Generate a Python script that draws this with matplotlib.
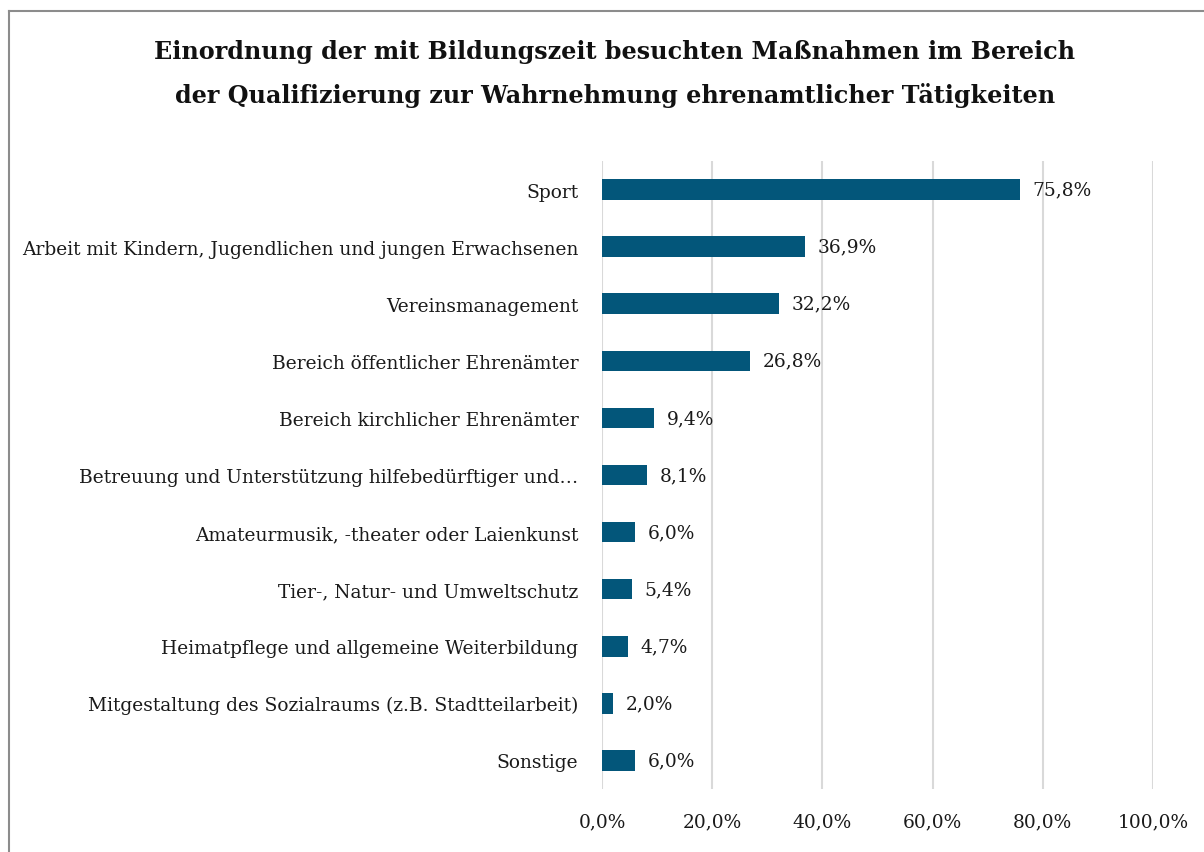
import matplotlib.pyplot as plt
from matplotlib.lines import Line2D
from matplotlib.ticker import FuncFormatter

categories = [
    "Sport",
    "Arbeit mit Kindern, Jugendlichen und jungen Erwachsenen",
    "Vereinsmanagement",
    "Bereich öffentlicher Ehrenämter",
    "Bereich kirchlicher Ehrenämter",
    "Betreuung und Unterstützung hilfebedürftiger und…",
    "Amateurmusik, -theater oder Laienkunst",
    "Tier-, Natur- und Umweltschutz",
    "Heimatpflege und allgemeine Weiterbildung",
    "Mitgestaltung des Sozialraums (z.B. Stadtteilarbeit)",
    "Sonstige",
]
values = [75.8, 36.9, 32.2, 26.8, 9.4, 8.1, 6.0, 5.4, 4.7, 2.0, 6.0]
xticks = [0, 20, 40, 60, 80, 100]

title = ("Einordnung der mit Bildungszeit besuchten Maßnahmen im Bereich\n"
         "der Qualifizierung zur Wahrnehmung ehrenamtlicher Tätigkeiten")

bar_color = "#03567A"
text_color = "#1a1a1a"
font = "DejaVu Serif"
fs = 13.4

W, H = 1204, 853
fig = plt.figure(figsize=(W / 100, H / 100), dpi=100)

# axes placed in pixel coords: x 602..1153, y 162..790
ax = fig.add_axes([602 / W, 1 - 790 / H, (1153 - 602) / W, (790 - 162) / H])

y = list(range(len(categories)))
ax.barh(y, values, height=0.36, color=bar_color, zorder=3)
for yi, v in zip(y, values):
    ax.text(v + 2.3, yi, f"{v:.1f}%".replace(".", ","), va="center", ha="left",
            fontsize=fs, family=font, color=text_color)

ax.set_xlim(0, 100)
ax.set_ylim(len(categories) - 0.5, -0.5)
ax.set_yticks(y)
ax.set_yticklabels(categories, fontsize=fs, family=font, color=text_color)
ax.set_xticks(xticks)
ax.xaxis.set_major_formatter(FuncFormatter(lambda v, p: f"{v:.1f}%".replace(".", ",")))
for lab in ax.get_xticklabels():
    lab.set_family(font)
    lab.set_fontsize(fs)
    lab.set_color(text_color)

ax.tick_params(axis="both", length=0)
ax.tick_params(axis="x", pad=17)
ax.tick_params(axis="y", pad=17)
ax.grid(axis="x", color="#d9d9d9", linewidth=1.5, zorder=0)
for s in ax.spines.values():
    s.set_visible(False)

fig.text(615 / W, 1 - 74 / H, title, ha="center", va="center", fontsize=17.2,
         fontweight="bold", family=font, color="#111111", linespacing=1.9)

# outer frame (top and left edges visible)
fig.add_artist(Line2D([8.5 / W, 1.0], [1 - 12 / H, 1 - 12 / H],
                      transform=fig.transFigure, color="#8c8c8c", linewidth=1.5))
fig.add_artist(Line2D([8.5 / W, 8.5 / W], [1 - 12 / H, 0],
                      transform=fig.transFigure, color="#8c8c8c", linewidth=1.5))

fig.savefig("out.png", dpi=100)
